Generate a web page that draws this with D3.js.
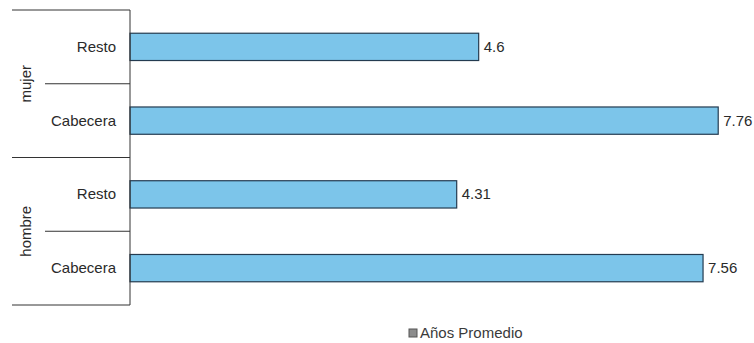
<!DOCTYPE html>
<html>
<head>
<meta charset="utf-8">
<script src="https://cdn.jsdelivr.net/npm/d3@7"></script>
<style>
  body { margin: 0; background: #fff; }
  text { font-family: "Liberation Sans", Arial, sans-serif; }
</style>
</head>
<body>
<script>
const width = 754;
const height = 343;

// Datos
const groups = ["mujer", "hombre"];
const zones = ["Resto", "Cabecera"];
const values = [4.6, 7.76, 4.31, 7.56]; // mujer Resto, mujer Cabecera, hombre Resto, hombre Cabecera
const seriesName = "Años Promedio";

const rows = [];
groups.forEach((g, gi) => zones.forEach((z, zi) => {
    rows.push({ key: g + "-" + z, group: g, zone: z, value: values[gi * zones.length + zi] });
}));

const svg = d3.select("body")
    .append("svg")
    .attr("width", width)
    .attr("height", height);

const y = d3.scaleBand()
    .domain(rows.map(d => d.key))
    .range([10, 305])
    .paddingInner(0.63)
    .paddingOuter(0.315);

const x = d3.scaleLinear()
    .domain([0, 8])
    .range([130, 736.4]);

const fs = 15;

// Barras
svg.selectAll("rect.bar")
    .data(rows)
    .enter()
    .append("rect")
    .attr("class", "bar")
    .attr("x", x(0))
    .attr("y", d => y(d.key))
    .attr("width", d => x(d.value) - x(0))
    .attr("height", y.bandwidth())
    .attr("fill", "#7cc5ea")
    .attr("stroke", "#243b50")
    .attr("stroke-width", 1.2);

// Etiquetas de valor
svg.selectAll("text.val")
    .data(rows)
    .enter()
    .append("text")
    .attr("class", "val")
    .attr("x", d => x(d.value) + 5)
    .attr("y", d => y(d.key) + y.bandwidth() / 2 + 5)
    .attr("font-size", fs)
    .attr("fill", "#2a2a2a")
    .text(d => d.value);

// Eje vertical
const step = y.step();
const y0 = y.range()[0];
svg.append("line")
    .attr("x1", x(0)).attr("x2", x(0))
    .attr("y1", y0).attr("y2", y.range()[1])
    .attr("stroke", "#333").attr("stroke-width", 1);

// Separadores de categorías
rows.forEach((d, i) => {
    const yy = y0 + step * (i + 1);
    const full = (i + 1) % zones.length === 0;
    svg.append("line")
        .attr("x1", full ? 12 : 45).attr("x2", x(0))
        .attr("y1", yy).attr("y2", yy)
        .attr("stroke", "#333").attr("stroke-width", 1);
});
svg.append("line")
    .attr("x1", 12).attr("x2", x(0))
    .attr("y1", y0).attr("y2", y0)
    .attr("stroke", "#333").attr("stroke-width", 1);

// Etiquetas de zona
svg.selectAll("text.zone")
    .data(rows)
    .enter()
    .append("text")
    .attr("class", "zone")
    .attr("x", 116)
    .attr("y", d => y(d.key) + y.bandwidth() / 2 + 5)
    .attr("text-anchor", "end")
    .attr("font-size", fs)
    .attr("fill", "#2a2a2a")
    .text(d => d.zone);

// Etiquetas de grupo (rotadas)
groups.forEach((g, gi) => {
    const cy = y0 + step * zones.length * (gi + 0.5);
    svg.append("text")
        .attr("transform", `translate(31,${cy}) rotate(-90)`)
        .attr("text-anchor", "middle")
        .attr("font-size", fs)
        .attr("fill", "#2a2a2a")
        .text(g);
});

// Leyenda
const legend = svg.append("g").attr("transform", "translate(409,329)");
legend.append("rect")
    .attr("width", 8).attr("height", 8)
    .attr("fill", "#8c8c8c").attr("stroke", "#555");
legend.append("text")
    .attr("x", 11).attr("y", 9)
    .attr("font-size", fs)
    .attr("fill", "#3a3a3a")
    .text(seriesName);
</script>
</body>
</html>
